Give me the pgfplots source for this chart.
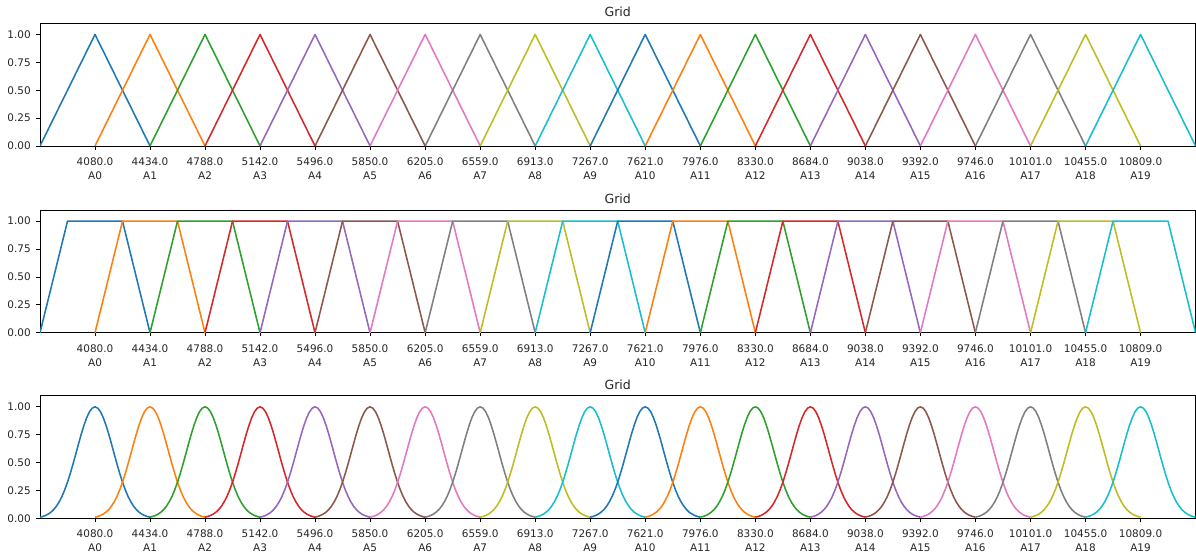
\documentclass[border=0pt]{standalone}
\usepackage{fontspec}
\setmainfont{DejaVu Sans}
\usepackage{pgfplots}
\usepackage{pgfplotstable}
\pgfplotsset{compat=1.18}
\definecolor{c0}{HTML}{1F77B4}
\definecolor{c1}{HTML}{FF7F0E}
\definecolor{c2}{HTML}{2CA02C}
\definecolor{c3}{HTML}{D62728}
\definecolor{c4}{HTML}{9467BD}
\definecolor{c5}{HTML}{8C564B}
\definecolor{c6}{HTML}{E377C2}
\definecolor{c7}{HTML}{7F7F7F}
\definecolor{c8}{HTML}{BCBD22}
\definecolor{c9}{HTML}{17BECF}

% Gaussian shape: u in units of grid spacing, y membership
\pgfplotstableread{
u y
-1.00 0.01111
-0.95 0.01723
-0.90 0.02613
-0.85 0.03873
-0.80 0.05613
-0.75 0.07957
-0.70 0.11025
-0.65 0.14939
-0.60 0.19790
-0.55 0.25633
-0.50 0.32465
-0.45 0.40202
-0.40 0.48675
-0.35 0.57624
-0.30 0.66698
-0.25 0.75484
-0.20 0.83527
-0.15 0.90371
-0.10 0.95600
-0.05 0.98881
0.00 1.00000
0.05 0.98881
0.10 0.95600
0.15 0.90371
0.20 0.83527
0.25 0.75484
0.30 0.66698
0.35 0.57624
0.40 0.48675
0.45 0.40202
0.50 0.32465
0.55 0.25633
0.60 0.19790
0.65 0.14939
0.70 0.11025
0.75 0.07957
0.80 0.05613
0.85 0.03873
0.90 0.02613
0.95 0.01723
1.00 0.01111
}\gauss

\pgfplotsset{
  gridaxis/.style={
    scale only axis, width=1155.5bp, height=122.7bp,
    anchor=north west,
    xmin=3726, xmax=11163, ymin=0, ymax=1.1,
    scaled x ticks=false, scaled y ticks=false,
    axis line style={line width=0.84bp, black},
    tick align=outside,
    major tick length=3.7bp,
    every tick/.style={line width=0.84bp, black},
    xtick pos=bottom, ytick pos=left,
    xtick={4080,4434,4788,5142,5496,5850,6205,6559,6913,7267,7621,7976,8330,8684,9038,9392,9746,10101,10455,10809},
    xticklabels={{4080.0\\A0},{4434.0\\A1},{4788.0\\A2},{5142.0\\A3},{5496.0\\A4},{5850.0\\A5},{6205.0\\A6},{6559.0\\A7},{6913.0\\A8},{7267.0\\A9},{7621.0\\A10},{7976.0\\A11},{8330.0\\A12},{8684.0\\A13},{9038.0\\A14},{9392.0\\A15},{9746.0\\A16},{10101.0\\A17},{10455.0\\A18},{10809.0\\A19}},
    xticklabel style={align=center, font=\fontsize{10.5}{14}\selectfont, text=black!85, yshift=-4.5bp},
    ytick={0,0.25,0.5,0.75,1},
    yticklabel style={font=\fontsize{10.5}{12}\selectfont, text=black!85, xshift=-2bp,
      /pgf/number format/.cd, fixed, fixed zerofill, precision=2, assume math mode=true},
    title=Grid,
    every axis title/.style={at={(0.5,1)}, anchor=base, yshift=6.6bp, font=\fontsize{12.6}{14}\selectfont, text=black!85},
    cycle list={{c0},{c1},{c2},{c3},{c4},{c5},{c6},{c7},{c8},{c9}},
    every axis plot/.append style={line width=1.55bp, line join=round, mark=none},
  }
}

\begin{document}
\begin{tikzpicture}
\path[use as bounding box] (0,0) rectangle (1196bp,-554bp);

\begin{axis}[gridaxis, at={(40bp,-23.3bp)}]
\addplot coordinates {(3726,0)(4080,1)(4434,0)};
\addplot coordinates {(4080,0)(4434,1)(4788,0)};
\addplot coordinates {(4434,0)(4788,1)(5142,0)};
\addplot coordinates {(4788,0)(5142,1)(5496,0)};
\addplot coordinates {(5142,0)(5496,1)(5850,0)};
\addplot coordinates {(5496,0)(5850,1)(6205,0)};
\addplot coordinates {(5850,0)(6205,1)(6559,0)};
\addplot coordinates {(6205,0)(6559,1)(6913,0)};
\addplot coordinates {(6559,0)(6913,1)(7267,0)};
\addplot coordinates {(6913,0)(7267,1)(7621,0)};
\addplot coordinates {(7267,0)(7621,1)(7976,0)};
\addplot coordinates {(7621,0)(7976,1)(8330,0)};
\addplot coordinates {(7976,0)(8330,1)(8684,0)};
\addplot coordinates {(8330,0)(8684,1)(9038,0)};
\addplot coordinates {(8684,0)(9038,1)(9392,0)};
\addplot coordinates {(9038,0)(9392,1)(9746,0)};
\addplot coordinates {(9392,0)(9746,1)(10101,0)};
\addplot coordinates {(9746,0)(10101,1)(10455,0)};
\addplot coordinates {(10101,0)(10455,1)(10809,0)};
\addplot coordinates {(10455,0)(10809,1)(11163,0)};
\end{axis}

\begin{axis}[gridaxis, at={(40bp,-210bp)}]
\addplot coordinates {(3726,0)(3903,1)(4257,1)(4434,0)};
\addplot coordinates {(4080,0)(4257,1)(4611,1)(4788,0)};
\addplot coordinates {(4434,0)(4611,1)(4965,1)(5142,0)};
\addplot coordinates {(4788,0)(4965,1)(5319,1)(5496,0)};
\addplot coordinates {(5142,0)(5319,1)(5673,1)(5850,0)};
\addplot coordinates {(5496,0)(5673,1)(6027.5,1)(6205,0)};
\addplot coordinates {(5850,0)(6027.5,1)(6382,1)(6559,0)};
\addplot coordinates {(6205,0)(6382,1)(6736,1)(6913,0)};
\addplot coordinates {(6559,0)(6736,1)(7090,1)(7267,0)};
\addplot coordinates {(6913,0)(7090,1)(7444,1)(7621,0)};
\addplot coordinates {(7267,0)(7444,1)(7798.5,1)(7976,0)};
\addplot coordinates {(7621,0)(7798.5,1)(8153,1)(8330,0)};
\addplot coordinates {(7976,0)(8153,1)(8507,1)(8684,0)};
\addplot coordinates {(8330,0)(8507,1)(8861,1)(9038,0)};
\addplot coordinates {(8684,0)(8861,1)(9215,1)(9392,0)};
\addplot coordinates {(9038,0)(9215,1)(9569,1)(9746,0)};
\addplot coordinates {(9392,0)(9569,1)(9923.5,1)(10101,0)};
\addplot coordinates {(9746,0)(9923.5,1)(10278,1)(10455,0)};
\addplot coordinates {(10101,0)(10278,1)(10632,1)(10809,0)};
\addplot coordinates {(10455,0)(10632,1)(10986,1)(11163,0)};
\end{axis}

\begin{axis}[gridaxis, at={(40bp,-395.7bp)}]
\pgfplotsinvokeforeach{4080,4434,4788,5142,5496,5850,6205,6559,6913,7267,7621,7976,8330,8684,9038,9392,9746,10101,10455,10809}{
  \addplot table[x expr=\thisrow{u}*354.16+#1, y=y] {\gauss};
}
\end{axis}
\end{tikzpicture}
\end{document}
